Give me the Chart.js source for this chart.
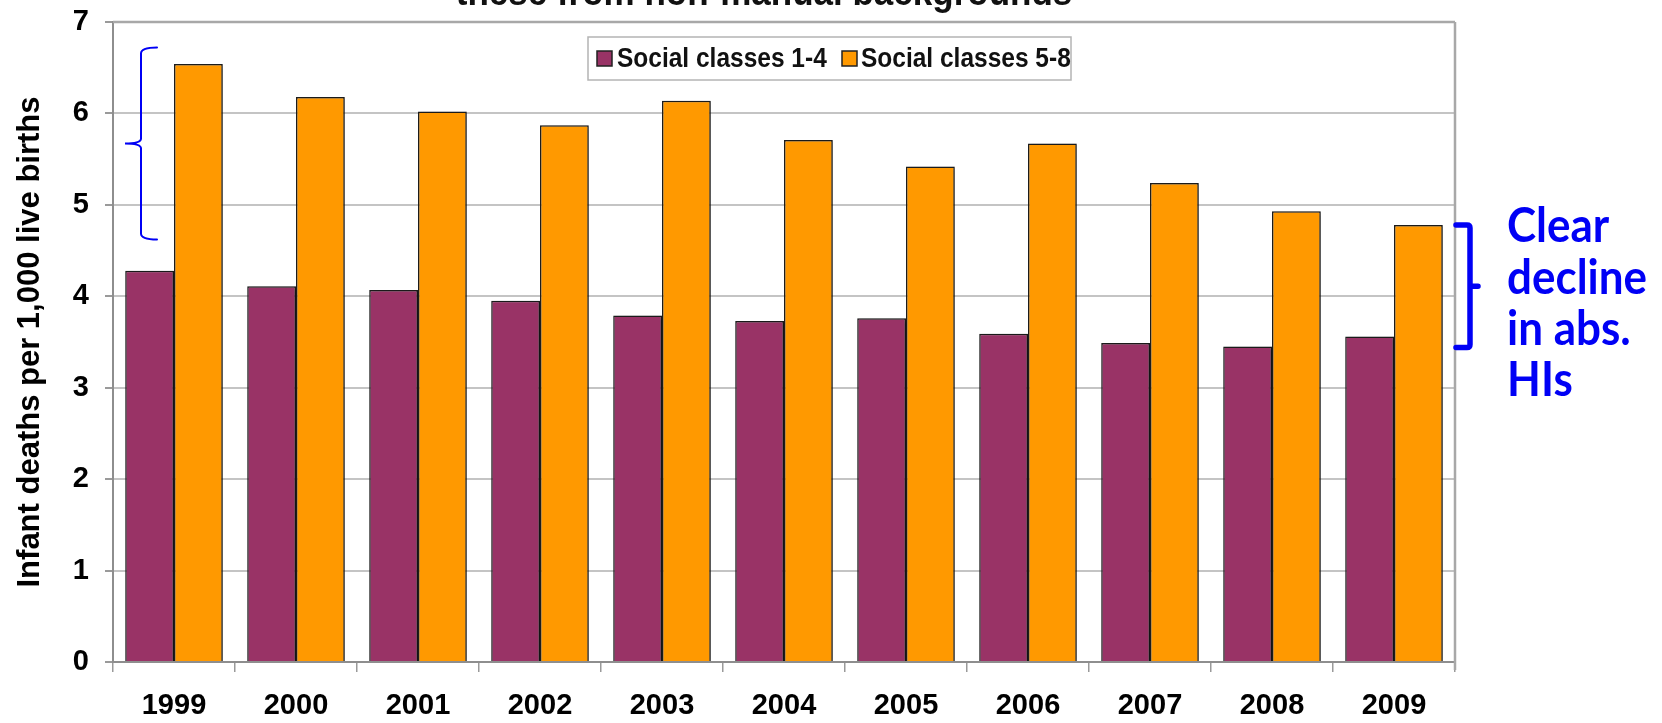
<!DOCTYPE html>
<html>
<head>
<meta charset="utf-8">
<title>Infant deaths by social class</title>
<script src="https://cdn.jsdelivr.net/npm/chart.js@4.4.1/dist/chart.umd.min.js"></script>
<style>
  html, body { margin: 0; padding: 0; background: #ffffff; }
  #chart { display: block; }
</style>
</head>
<body>
<canvas id="chart" width="1662" height="723"></canvas>
<script>
// Years on the category axis
const years = ['1999', '2000', '2001', '2002', '2003', '2004', '2005', '2006', '2007', '2008', '2009'];

// Infant deaths per 1,000 live births
const classes1to4 = [4.28, 4.11, 4.07, 3.95, 3.79, 3.73, 3.76, 3.59, 3.49, 3.45, 3.56];
const classes5to8 = [6.54, 6.18, 6.02, 5.87, 6.14, 5.71, 5.42, 5.67, 5.24, 4.93, 4.78];

// Series names
const seriesNames = ['Social classes 1-4', 'Social classes 5-8'];

// Value-axis range and step
const yMin = 0;
const yMax = 7;
const yStep = 1;

// Text of the side note
const noteLines = ['Clear', 'decline', 'in abs.', 'HIs'];
const headingText = 'these from non-manual backgrounds';

const FONT = "'Liberation Sans', Arial, sans-serif";
const NOTE_FONT = "Lato, 'Open Sans', sans-serif";
const BLUE = '#0000f5';

// Soft shadow behind the bars
const barShadow = {
  id: 'barShadow',
  beforeDatasetsDraw(chart) {
    const ctx = chart.ctx;
    ctx.save();
    ctx.shadowColor = 'rgba(0,0,0,0.35)';
    ctx.shadowOffsetX = 2;
    ctx.shadowOffsetY = 1;
    ctx.shadowBlur = 3;
  },
  afterDatasetsDraw(chart) {
    chart.ctx.restore();
  }
};

// Plot frame, heading, legend box and the blue brackets/note
const decorations = {
  id: 'decorations',
  beforeDatasetsDraw(chart) {
    const {ctx, chartArea: a} = chart;
    ctx.save();
    ctx.strokeStyle = '#a8a8a8';
    ctx.lineWidth = 2.5;
    ctx.beginPath();
    ctx.moveTo(a.left, a.top);
    ctx.lineTo(a.right, a.top);
    ctx.moveTo(a.right, a.top);
    ctx.lineTo(a.right, a.bottom + 8);
    ctx.stroke();
    ctx.restore();
  },
  afterDraw(chart) {
    const {ctx, chartArea: a, scales: {y}} = chart;

    // heading, mostly above the top edge
    ctx.save();
    ctx.fillStyle = '#111';
    ctx.font = `bold 35px ${FONT}`;
    ctx.textAlign = 'center';
    ctx.textBaseline = 'alphabetic';
    ctx.translate(764, 5);
    ctx.scale(1, 1.1);
    ctx.fillText(headingText, 0, 0);
    ctx.restore();

    // legend box
    const bx = 588, by = 37, bw = 483, bh = 43;
    ctx.save();
    ctx.fillStyle = '#ffffff';
    ctx.fillRect(bx, by, bw, bh);
    ctx.strokeStyle = '#b4b4b4';
    ctx.lineWidth = 1.5;
    ctx.strokeRect(bx, by, bw, bh);
    const items = [{mx: 597, tx: 617}, {mx: 842, tx: 861}];
    chart.data.datasets.forEach((ds, i) => {
      const it = items[i];
      ctx.fillStyle = ds.backgroundColor;
      ctx.fillRect(it.mx, 51, 15, 15);
      ctx.strokeStyle = '#222';
      ctx.lineWidth = 1.5;
      ctx.strokeRect(it.mx, 51, 15, 15);
      ctx.save();
      ctx.fillStyle = '#111';
      ctx.font = `bold 24.5px ${FONT}`;
      ctx.textAlign = 'left';
      ctx.textBaseline = 'alphabetic';
      ctx.translate(it.tx, 67);
      ctx.scale(1, 1.12);
      ctx.fillText(ds.label, 0, 0);
      ctx.restore();
    });
    ctx.restore();

    // thin curly brace beside the first group
    const bTop = y.getPixelForValue(6.72);
    const bBot = y.getPixelForValue(4.62);
    const bMid = y.getPixelForValue(5.67);
    const bxv = a.left + 28;
    ctx.save();
    ctx.strokeStyle = BLUE;
    ctx.lineWidth = 2;
    ctx.lineCap = 'round';
    ctx.beginPath();
    ctx.moveTo(bxv + 16, bTop);
    ctx.quadraticCurveTo(bxv, bTop, bxv, bTop + 6);
    ctx.lineTo(bxv, bMid - 5);
    ctx.quadraticCurveTo(bxv, bMid, bxv - 16, bMid);
    ctx.quadraticCurveTo(bxv, bMid, bxv, bMid + 5);
    ctx.lineTo(bxv, bBot - 6);
    ctx.quadraticCurveTo(bxv, bBot, bxv + 16, bBot);
    ctx.stroke();
    ctx.restore();

    // bold bracket beside the last group
    const rTop = y.getPixelForValue(4.78);
    const rBot = y.getPixelForValue(3.44);
    const rMid = (rTop + rBot) / 2;
    const rx = a.right + 15;
    ctx.save();
    ctx.strokeStyle = BLUE;
    ctx.lineWidth = 5.5;
    ctx.lineJoin = 'round';
    ctx.lineCap = 'round';
    ctx.beginPath();
    ctx.moveTo(a.right + 1, rTop);
    ctx.lineTo(rx - 3, rTop);
    ctx.quadraticCurveTo(rx, rTop, rx, rTop + 3);
    ctx.lineTo(rx, rBot - 3);
    ctx.quadraticCurveTo(rx, rBot, rx - 3, rBot);
    ctx.lineTo(a.right + 1, rBot);
    ctx.moveTo(rx, rMid);
    ctx.lineTo(rx + 8, rMid);
    ctx.stroke();
    ctx.restore();

    // side note
    ctx.save();
    ctx.fillStyle = BLUE;
    ctx.font = `bold 44px ${NOTE_FONT}`;
    ctx.textAlign = 'left';
    ctx.textBaseline = 'alphabetic';
    const baselines = [242, 294, 345, 396];
    noteLines.forEach((t, i) => {
      ctx.save();
      ctx.translate(1507, baselines[i]);
      ctx.scale(1, 1.1);
      ctx.fillText(t, 0, 0);
      ctx.restore();
    });
    ctx.restore();
  }
};

new Chart(document.getElementById('chart'), {
  type: 'bar',
  data: {
    labels: years,
    datasets: [
      {
        label: seriesNames[0],
        data: classes1to4,
        backgroundColor: '#993366',
        borderColor: '#1c1c1c',
        borderWidth: 1.5,
        categoryPercentage: 0.8,
        barPercentage: 1.0
      },
      {
        label: seriesNames[1],
        data: classes5to8,
        backgroundColor: '#ff9900',
        borderColor: '#1c1c1c',
        borderWidth: 1.5,
        categoryPercentage: 0.8,
        barPercentage: 1.0
      }
    ]
  },
  options: {
    responsive: false,
    animation: false,
    devicePixelRatio: 1,
    layout: { padding: { top: 22, right: 207, left: 0, bottom: 0 } },
    plugins: {
      legend: { display: false },
      tooltip: { enabled: false },
      title: { display: false }
    },
    scales: {
      x: {
        grid: {
          offset: true,
          drawOnChartArea: false,
          drawTicks: true,
          tickLength: 10,
          tickColor: '#9a9a9a',
          lineWidth: 1.5
        },
        border: { display: true, color: '#8e8e8e', width: 2 },
        ticks: {
          color: '#000',
          padding: 17,
          font: { family: FONT, size: 29, weight: 'bold' }
        },
        afterFit(scale) { scale.height = 61; }
      },
      y: {
        min: yMin,
        max: yMax,
        ticks: {
          stepSize: yStep,
          color: '#000',
          padding: 16,
          font: { family: FONT, size: 29, weight: 'bold' }
        },
        grid: {
          color: '#c4c4c4',
          lineWidth: 2,
          tickLength: 8,
          tickColor: '#9a9a9a'
        },
        border: { display: true, color: '#8e8e8e', width: 2 },
        title: {
          display: true,
          text: 'Infant deaths per 1,000 live births',
          color: '#000',
          padding: { top: 12, bottom: 0 },
          font: { family: FONT, size: 31, weight: 'bold' }
        },
        afterFit(scale) {
          scale.width = 113;
          scale.paddingTop = 0;
          scale.paddingBottom = 0;
        }
      }
    }
  },
  plugins: [decorations, barShadow]
});
</script>
</body>
</html>
